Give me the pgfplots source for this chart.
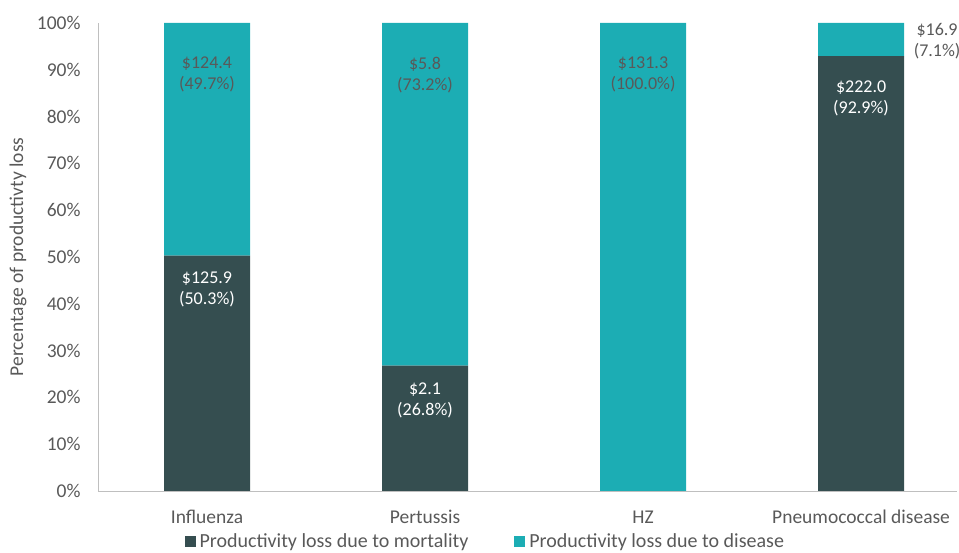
\documentclass[border=0pt]{standalone}
\usepackage{pgfplots}
\pgfplotsset{compat=1.18}
\usepackage{pgfplotstable}
\usepackage{fontspec}
\setmainfont{Carlito}

\definecolor{mortal}{HTML}{354E50}
\definecolor{disease}{HTML}{1CADB4}
\definecolor{txt}{HTML}{595959}
\definecolor{axisgray}{HTML}{BFBFBF}

% share of productivity loss (%), label offsets from the segment top (bp)
% and value labels
\pgfplotstableread{
x y dx dy label
0 50.3 0 -16.5 {\$125.9\\(50.3\%)}
1 26.8 0 -17.5 {\$2.1\\(26.8\%)}
2 0 0 0 {}
3 92.9 0 -24.5 {\$222.0\\(92.9\%)}
}\mortality

\pgfplotstableread{
x y dx dy label
0 49.7 0 -34 {\$124.4\\(49.7\%)}
1 73.2 0 -34 {\$5.8\\(73.2\%)}
2 100 0 -34 {\$131.3\\(100.0\%)}
3 7.1 76 -0.5 {\$16.9\\(7.1\%)}
}\disease

\newcommand\labfont{\fontsize{19.5bp}{23bp}\selectfont}
\newcommand\legfont{\fontsize{20bp}{23bp}\selectfont}
\newcommand\datfont{\fontsize{18bp}{21bp}\selectfont}

\begin{document}
\begin{tikzpicture}
\begin{axis}[
  at={(98bp,62bp)}, anchor=south west,
  scale only axis, width=859bp, height=468bp,
  ybar stacked, bar width=86bp,
  xmin=-0.5, xmax=3.44, ymin=0, ymax=100,
  axis x line*=bottom, axis y line*=left,
  axis line style={axisgray, line width=1bp},
  major tick length=0,
  xtick={0,1,2,3},
  xticklabels={Influenza,Pertussis,HZ,Pneumococcal disease},
  xticklabel style={anchor=base, yshift=-32bp, font=\labfont, text=txt},
  ytick={0,10,...,100},
  yticklabel={\pgfmathprintnumber{\tick}\%},
  /pgf/number format/assume math mode=true,
  yticklabel style={font=\labfont, text=txt, xshift=-14bp},
  ylabel={Percentage of productivty loss},
  ylabel style={at={(axis description cs:-0.0931,0.5)}, anchor=center,
                font=\labfont, text=txt},
  point meta=explicit symbolic,
  % labels sit at the middle of a stacked segment: move them up to its top
  % (half the segment: y/2 * 4.68 bp per percent), then by dy
  visualization depends on={\thisrow{dx} \as \dx},
  visualization depends on={\thisrow{y}*2.34+\thisrow{dy} \as \dy},
  nodes near coords,
  nodes near coords style={anchor=north, align=center, inner sep=0pt,
                           font=\datfont, xshift=\dx bp, yshift=\dy bp},
  legend columns=2,
  legend style={at={(axis description cs:0.452,-0.1085)}, anchor=center,
                draw=none, fill=none, font=\legfont, text=txt,
                nodes={inner xsep=4bp, inner ysep=1bp},
                /tikz/every even column/.append style={column sep=42bp}},
  legend image code/.code={\fill[#1] (0bp,-5.5bp) rectangle (11bp,5.5bp);},
]
\addplot[fill=mortal, draw=none, nodes near coords style={text=white}]
  table[x=x, y=y, meta=label] {\mortality};
\addlegendentry{Productivity loss due to mortality}
\addplot[fill=disease, draw=none, nodes near coords style={text=txt}]
  table[x=x, y=y, meta=label] {\disease};
\addlegendentry{Productivity loss due to disease}
\end{axis}
\pgfresetboundingbox
\path[use as bounding box] (0,0) rectangle (959bp,553bp);
\end{tikzpicture}
\end{document}
